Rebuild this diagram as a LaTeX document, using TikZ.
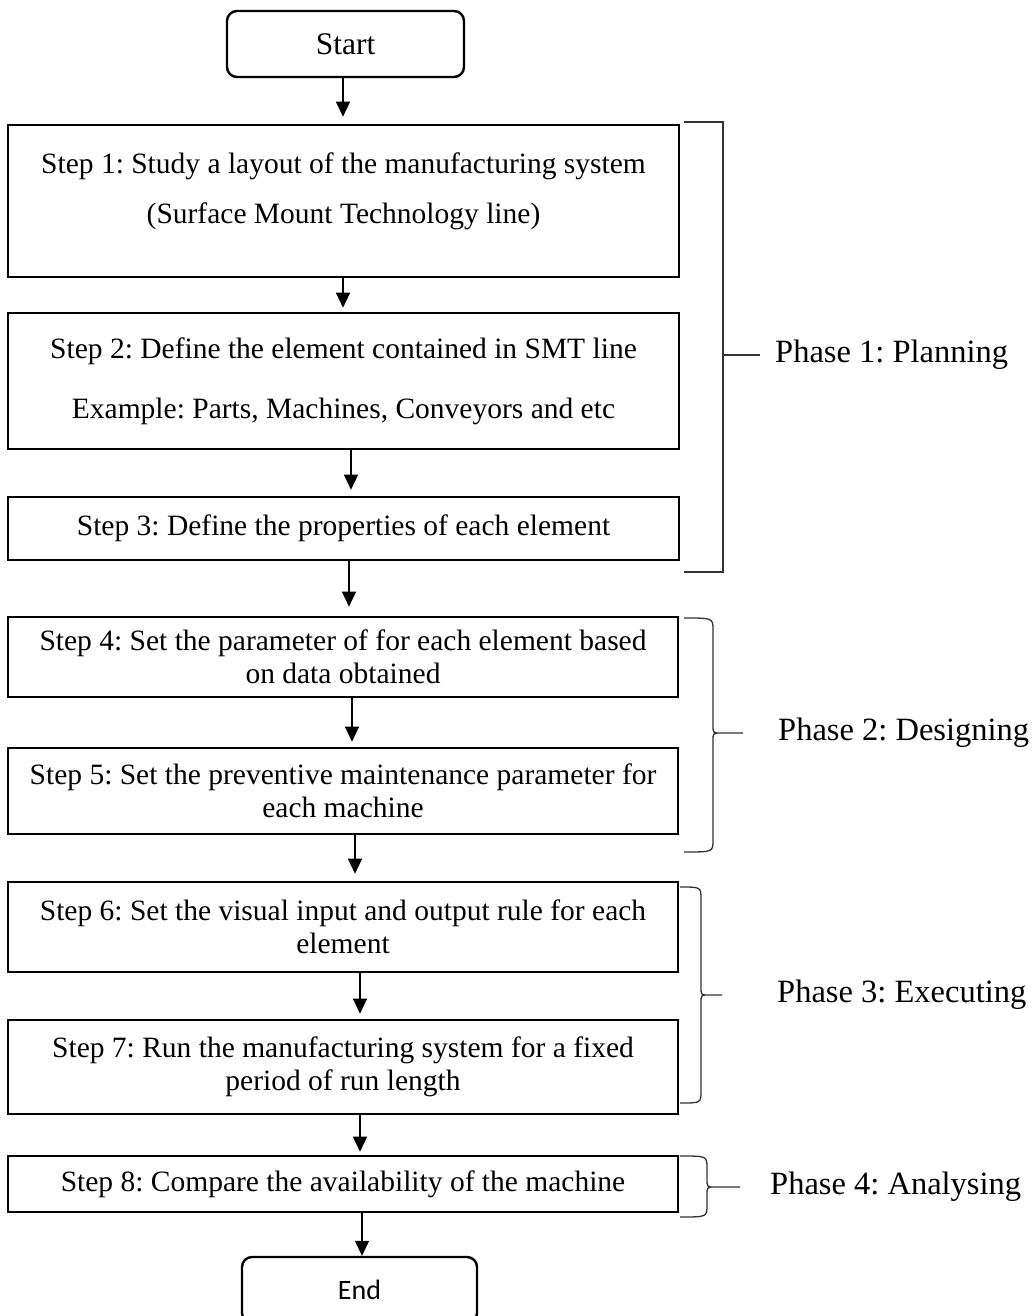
\documentclass[tikz,border=0pt]{standalone}
\usepackage{fontspec}
\setmainfont{Liberation Serif}
\newfontfamily\calibrifont{Carlito}
\usetikzlibrary{arrows.meta}
\frenchspacing
\newcommand\phasebrace[6]{%
  \draw[brk] (#1,#4) .. controls ({#2},{#4}) .. ({#2},{#4+12}) -- ({#2},{#5-8})
    .. controls ({#2},{#5}) .. ({#2+8},{#5}) .. controls ({#2},{#5}) .. ({#2},{#5+8})
    -- ({#2},{#6-12}) .. controls ({#2},{#6}) .. (#1,#6)
    ({#2+8},{#5}) -- (#3,#5);}
\begin{document}
\frenchspacing
\begin{tikzpicture}[x=1pt,y=-1pt,
  steptext/.style={align=center, font=\fontsize{29.5}{33}\selectfont},
  stepbox/.style={draw, line width=2.6pt, minimum width=671pt, inner sep=0pt, steptext},
  termbox/.style={draw, line width=2.4pt, rounded corners=10pt, minimum width=237pt, minimum height=66pt, inner sep=0pt},
  arr/.style={line width=1.3pt, -{Triangle[length=15pt,width=14pt]}, shorten >=5pt},
  brk/.style={line width=1.3pt, black!80},
  phase/.style={anchor=west, inner sep=0pt, font=\fontsize{32.5}{36}\selectfont}]
\useasboundingbox (0,0) rectangle (1031,1316);
\fill[white] (0,0) rectangle (1031,1316);
\clip (0,0) rectangle (1031,1316);

\node[termbox, font=\fontsize{31.5}{35}\selectfont] (start) at (345.5,44) {Start};
\node[stepbox, minimum height=152pt,
  label={[steptext, yshift=10pt]center:{Step 1: Study a layout of the manufacturing system\\[17pt](Surface Mount Technology line)}}] (s1) at (343.5,201) {};
\node[stepbox, minimum height=136pt] (s2) at (343.5,381) {Step 2: Define the element contained in SMT line\\[27pt]Example: Parts, Machines, Conveyors and etc};
\node[stepbox, minimum height=63pt] (s3) at (343.5,528.5) {Step 3: Define the properties of each element};
\node[stepbox, minimum width=670pt, minimum height=80pt] (s4) at (343,657) {Step 4: Set the parameter of for each element based\\on data obtained};
\node[stepbox, minimum width=670pt, minimum height=86pt] (s5) at (343,791) {Step 5: Set the preventive maintenance parameter for\\each machine};
\node[stepbox, minimum width=670pt, minimum height=90pt] (s6) at (343,927) {Step 6: Set the visual input and output rule for each\\element};
\node[stepbox, minimum width=670pt, minimum height=94pt] (s7) at (343,1067) {Step 7: Run the manufacturing system for a fixed\\period of run length};
\node[stepbox, minimum width=670pt, minimum height=56pt] (s8) at (343,1184) {Step 8: Compare the availability of the machine};
\node[termbox, minimum width=235pt, font=\calibrifont\fontsize{28}{32}\selectfont] (end) at (359.5,1290) {End};

\draw[arr, shorten >=7pt] ([xshift=-2.5pt]start.south) -- ([xshift=-0.5pt]s1.north);
\draw[arr, shorten >=4pt] ([xshift=-0.5pt]s1.south) -- ([xshift=-0.5pt]s2.north);
\draw[arr, shorten >=6pt] ([xshift=7.5pt]s2.south) -- ([xshift=7.5pt]s3.north);
\draw[arr, shorten >=9pt] ([xshift=5.5pt]s3.south) -- ([xshift=6pt]s4.north);
\draw[arr] ([xshift=9pt]s4.south) -- ([xshift=9pt]s5.north);
\draw[arr, shorten >=7pt] ([xshift=12pt]s5.south) -- ([xshift=12pt]s6.north);
\draw[arr] ([xshift=17pt]s6.south) -- ([xshift=17pt]s7.north);
\draw[arr, shorten >=3pt] ([xshift=17pt]s7.south) -- ([xshift=17pt]s8.north);
\draw[arr, shorten >=0pt] ([xshift=19pt]s8.south) -- ([xshift=2.5pt]end.north);

\draw[brk] (684,122) -- (723,122) -- (723,572) -- (684,572) (723,355) -- (760,355);
\phasebrace{684}{713}{743}{618}{733}{852}
\phasebrace{680}{701}{722}{887}{995}{1103}
\phasebrace{680}{707}{740}{1156}{1187}{1217}

\node[phase] (p1) at (775,355) {Phase 1: Planning};
\node[phase] (p2) at (778,733) {Phase 2: Designing};
\node[phase] (p3) at (777,995) {Phase 3: Executing};
\node[phase] (p4) at (770,1187) {Phase 4: Analysing};
\end{tikzpicture}
\end{document}
